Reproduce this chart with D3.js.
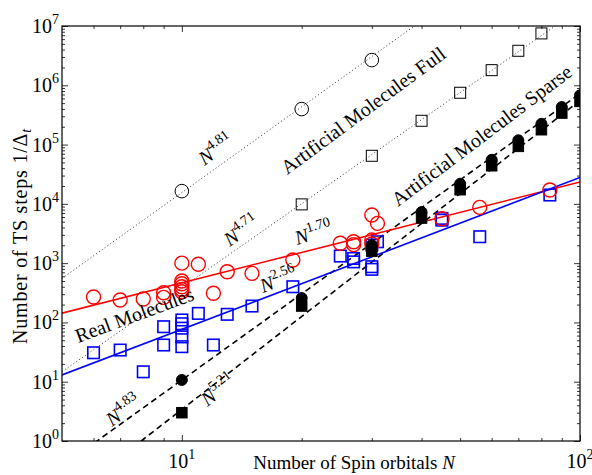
<!DOCTYPE html>
<html>
<head>
<meta charset="utf-8">
<script src="https://cdn.jsdelivr.net/npm/d3@7"></script>
<style>
  body { margin: 0; background: #fff; }
  svg text { font-family: "Liberation Serif", "DejaVu Serif", serif; fill: #000; }
</style>
</head>
<body>
<svg id="chart" width="592" height="475"></svg>
<script>
// --- datos ---
const fullCircN = [10, 20, 30]
const fullCircV = [1.64e4, 3.97e5, 2.66e6]
const fullSqN = [20, 30, 40, 50, 60, 70, 80]
const fullSqV = [9.8e3, 6.47e4, 2.52e5, 7.48e5, 1.80e6, 3.82e6, 7.50e6]

const sparseN = [10, 20, 30, 40, 50, 60, 70, 80, 90, 100]
const sparseCircV = [10.7, 258, 2020, 7270, 2.18e4, 5.54e4, 1.18e5, 2.24e5, 4.29e5, 6.76e5]
const sparseSqV = [3.0, 189, 1590, 5760, 1.73e4, 4.39e4, 9.33e4, 1.78e5, 3.40e5, 5.35e5]

const realCircN = [6, 7, 8, 9, 9, 10, 11, 10, 10, 10, 10, 10, 12, 13, 15, 19, 25, 27, 27, 30, 31, 30, 30, 45, 56, 84]
const realCircV = [268, 239, 248, 317, 265, 1000, 960, 500, 450, 400, 360, 330, 310, 716, 673, 1128, 2160, 2300, 2050, 6470, 4690, 2450, 2100, 5600, 8730, 17100]
const realSqN = [6, 7, 8, 9, 9, 10, 10, 10, 10, 10, 11, 12, 13, 15, 19, 25, 27, 27, 30, 30, 30, 31, 45, 45, 56, 84]
const realSqV = [30.8, 34.2, 14.7, 84.7, 41.6, 110, 95, 80, 57, 39, 142, 41.6, 137, 189, 400, 1318, 1200, 1050, 2020, 870, 786, 2296, 5690, 5300, 2790, 14100]

// ajustes N^p (exponente, prefactor)
const fitExp = [4.81, 4.71, 4.83, 5.21, 1.70, 2.56]
const fitCoef = [0.24, 7.5e-3, 1.58e-4, 2.1e-5, 9.3, 0.211]
const fitKind = ["dot", "dot", "dash", "dash", "red", "blue"]

const yMajor = [1, 10, 100, 1e3, 1e4, 1e5, 1e6, 1e7]
const xMajor = [10, 100]

// etiquetas: texto, exponente, posicion (N, valor), angulo
const notes = [
  { t: "N", sup: "4.81", n: 11.4, v: 4.34e4, a: -35.6 },
  { t: "Artificial Molecules Full", n: 18.4, v: 3.06e4, a: -36.5 },
  { t: "Artificial Molecules Sparse", n: 34.9, v: 8830, a: -37 },
  { t: "Real Molecules", n: 5.49, v: 45, a: -20.3 },
  { t: "N", sup: "1.70", n: 19.5, v: 2020, a: -17 },
  { t: "N", sup: "2.56", n: 16.0, v: 313, a: -21 },
  { t: "N", sup: "4.71", n: 13.2, v: 1870, a: -35 },
  { t: "N", sup: "4.83", n: 6.68, v: 1.72, a: -36 },
  { t: "N", sup: "5.21", n: 11.6, v: 3.74, a: -38 }
]

const L = 62, R = 580, T = 26, B = 441
const svg = d3.select("#chart")

const x = d3.scaleLog().domain([5, 100]).range([L, R])
const y = d3.scaleLog().domain([1, 1e7]).range([B, T])

svg.append("defs").append("clipPath").attr("id", "clip")
  .append("rect").attr("x", L).attr("y", T).attr("width", R - L).attr("height", B - T)

// ticks menores
const yMinor = []
for (let d = 0; d < 7; d++) for (let k = 2; k <= 9; k++) yMinor.push(k * Math.pow(10, d))
const xMinor = [6, 7, 8, 9, 20, 30, 40, 50, 60, 70, 80, 90]

function ticks(axis, vals, size, tr) {
  const g = svg.append("g").attr("transform", tr)
    .call(axis.tickValues(vals).tickSize(-size).tickFormat(""))
  g.select(".domain").remove()
  g.selectAll("line").attr("stroke", "#000").attr("stroke-width", 0.8)
}
ticks(d3.axisLeft(y), yMajor, 6, `translate(${L},0)`)
ticks(d3.axisLeft(y), yMinor, 3, `translate(${L},0)`)
ticks(d3.axisRight(y), yMajor, 6, `translate(${R},0)`)
ticks(d3.axisRight(y), yMinor, 3, `translate(${R},0)`)
ticks(d3.axisBottom(x), xMajor, 6, `translate(0,${B})`)
ticks(d3.axisBottom(x), xMinor, 3, `translate(0,${B})`)
ticks(d3.axisTop(x), xMajor, 6, `translate(0,${T})`)
ticks(d3.axisTop(x), xMinor, 3, `translate(0,${T})`)

// lineas de ajuste
const plot = svg.append("g").attr("clip-path", "url(#clip)")
fitExp.forEach((p, i) => {
  const pts = x.domain().map(n => [x(n), y(fitCoef[i] * Math.pow(n, p))])
  const k = fitKind[i]
  plot.append("path")
    .attr("d", d3.line()(pts))
    .attr("fill", "none")
    .attr("stroke", k === "red" ? "#f00" : k === "blue" ? "#00f" : k === "dot" ? "#333" : "#000")
    .attr("stroke-width", k === "dot" ? 1 : 1.6)
    .attr("stroke-dasharray", k === "dot" ? "1,2.5" : k === "dash" ? "6,4" : null)
})

// marcadores
function circles(ns, vs, r, stroke, fill, sw) {
  plot.append("g").selectAll("circle").data(ns).join("circle")
    .attr("cx", d => x(d)).attr("cy", (d, i) => y(vs[i])).attr("r", r)
    .attr("fill", fill).attr("stroke", stroke).attr("stroke-width", sw)
}
function squares(ns, vs, s, stroke, fill, sw) {
  plot.append("g").selectAll("rect").data(ns).join("rect")
    .attr("x", d => x(d) - s / 2).attr("y", (d, i) => y(vs[i]) - s / 2)
    .attr("width", s).attr("height", s)
    .attr("fill", fill).attr("stroke", stroke).attr("stroke-width", sw)
}
squares(realSqN, realSqV, 11.5, "#00f", "none", 1.6)
circles(realCircN, realCircV, 7, "#f00", "none", 1.4)
circles(fullCircN, fullCircV, 6.8, "#000", "none", 1)
squares(fullSqN, fullSqV, 11, "#000", "none", 1)
squares(sparseN, sparseSqV, 10.5, "#000", "#000", 1)
circles(sparseN, sparseCircV, 5.5, "#000", "#000", 1)

// marco
svg.append("rect").attr("x", L).attr("y", T).attr("width", R - L).attr("height", B - T)
  .attr("fill", "none").attr("stroke", "#000").attr("stroke-width", 1.2)

// etiquetas de ticks
function pow10(t, big, small, up) {
  t.append("tspan").text("10")
  t.append("tspan").attr("dy", -up).style("font-size", small + "px").text(d => Math.round(Math.log10(d)))
}
svg.selectAll(".ylab").data(yMajor).join("text")
  .attr("x", L - 3).attr("y", d => y(d) + 7)
  .attr("text-anchor", "end").style("font-size", "20px")
  .call(pow10, 20, 14, 9)
svg.selectAll(".xlab").data(xMajor).join("text")
  .attr("x", d => x(d)).attr("y", 468)
  .attr("text-anchor", "middle").style("font-size", "20px")
  .call(pow10, 20, 14, 9)

// titulos de ejes
svg.append("text").attr("x", 354).attr("y", 469).attr("text-anchor", "middle")
  .style("font-size", "19px")
  .call(t => {
    t.append("tspan").text("Number of Spin orbitals ")
    t.append("tspan").style("font-style", "italic").text("N")
  })
svg.append("text").attr("transform", "translate(27,236) rotate(-90)").attr("text-anchor", "middle")
  .style("font-size", "20px").style("letter-spacing", "0.8px")
  .call(t => {
    t.append("tspan").text("Number of TS steps 1/Δ")
    t.append("tspan").attr("dy", 4).style("font-size", "14px").style("font-style", "italic").text("t")
  })

// anotaciones
notes.forEach(d => {
  const t = svg.append("text")
    .attr("transform", `translate(${x(d.n)},${y(d.v)}) rotate(${d.a})`)
    .style("font-size", "20px")
  if (d.sup) {
    t.append("tspan").style("font-style", "italic").text(d.t)
    t.append("tspan").attr("dy", -9).style("font-size", "14px").text(d.sup)
  } else {
    t.text(d.t)
  }
})
</script>
</body>
</html>
